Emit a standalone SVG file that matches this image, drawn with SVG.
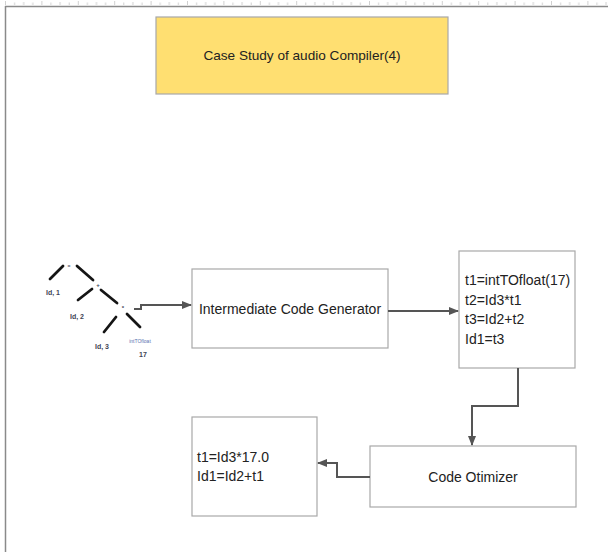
<svg xmlns="http://www.w3.org/2000/svg" width="608" height="552" viewBox="0 0 608 552">
  <defs>
    <style>
      .box { fill: #ffffff; stroke: #a8a8a8; stroke-width: 1.2; }
      .title { fill: #ffdf71; stroke: #a8a8a8; stroke-width: 1.2; }
      .lbl { font-family: "Liberation Sans", Arial, sans-serif; font-size: 14px; fill: #222; }
      .conn { fill: none; stroke: #555; stroke-width: 2; }
      .tree { stroke: #151515; stroke-width: 2.8; stroke-linecap: round; }
      .tlbl { font-family: "Liberation Sans", Arial, sans-serif; font-size: 7px; font-weight: bold; fill: #404456; text-anchor: middle; }
      .tick { stroke: #d0d0d0; stroke-width: 1; }
    </style>
    <marker id="arrow" viewBox="0 0 10 10" refX="9" refY="5" markerWidth="5" markerHeight="5" orient="auto" markerUnits="strokeWidth">
      <path d="M0,1 L10,5 L0,9 Z" fill="#555"/>
    </marker>
    <pattern id="ruler" x="5" y="0" width="36.4" height="6" patternUnits="userSpaceOnUse">
      <line class="tick" x1="0.5" y1="1" x2="0.5" y2="5"/>
      <line class="tick" x1="9.6" y1="2.5" x2="9.6" y2="5"/>
      <line class="tick" x1="18.7" y1="2" x2="18.7" y2="5"/>
      <line class="tick" x1="27.8" y1="2.5" x2="27.8" y2="5"/>
    </pattern>
  </defs>

  <rect width="608" height="552" fill="#ffffff"/>

  <!-- page ruler and page edges -->
  <rect x="5" y="0" width="603" height="6" fill="url(#ruler)"/>
  <line x1="5" y1="6.5" x2="608" y2="6.5" stroke="#8a8a8a" stroke-width="1.5"/>
  <line x1="5.5" y1="6" x2="5.5" y2="552" stroke="#8a8a8a" stroke-width="1.5"/>

  <!-- title -->
  <g id="title">
    <rect class="title" x="156" y="17" width="292" height="77"/>
    <text class="lbl" x="302" y="60" text-anchor="middle" style="font-size:13.6px">Case Study of audio Compiler(4)</text>
  </g>

  <!-- syntax tree -->
  <g id="syntax-tree">
    <line class="tree" x1="63" y1="266" x2="50" y2="279"/>
    <line class="tree" x1="77" y1="266" x2="93" y2="280"/>
    <line class="tree" x1="92" y1="289" x2="78" y2="300"/>
    <line class="tree" x1="101" y1="290" x2="117" y2="303"/>
    <line class="tree" x1="116" y1="317" x2="104" y2="332"/>
    <line class="tree" x1="127" y1="314" x2="140" y2="327"/>
    <text class="tlbl" x="69" y="268" style="font-size:5px">=</text>
    <text class="tlbl" x="98" y="287" style="font-size:6px">+</text>
    <text class="tlbl" x="123" y="310" style="font-size:6px">*</text>
    <text class="tlbl" x="53" y="295">Id, 1</text>
    <text class="tlbl" x="77" y="319">Id, 2</text>
    <text class="tlbl" x="102" y="349">Id, 3</text>
    <text class="tlbl" x="140" y="343" style="font-size:5px;font-weight:normal;fill:#5a72b0">intTOfloat</text>
    <text class="tlbl" x="143" y="357">17</text>
  </g>

  <g id="icg">
    <rect class="box" x="192" y="269" width="196" height="79"/>
    <text class="lbl" x="290" y="314" text-anchor="middle">Intermediate Code Generator</text>
  </g>

  <g id="three-address">
    <rect class="box" x="459" y="251" width="116" height="117"/>
    <text class="lbl" x="465" y="285">t1=intTOfloat(17)</text>
    <text class="lbl" x="465" y="305">t2=Id3*t1</text>
    <text class="lbl" x="465" y="324">t3=Id2+t2</text>
    <text class="lbl" x="465" y="344">Id1=t3</text>
  </g>

  <g id="optimizer">
    <rect class="box" x="370" y="446" width="206" height="61"/>
    <text class="lbl" x="473" y="482" text-anchor="middle">Code Otimizer</text>
  </g>

  <g id="optimized">
    <rect class="box" x="192" y="417" width="125" height="99"/>
    <text class="lbl" x="197" y="462">t1=Id3*17.0</text>
    <text class="lbl" x="197" y="481">Id1=Id2+t1</text>
  </g>

  <g id="connectors">
    <path class="conn" d="M134,309 H141 V305 H191" marker-end="url(#arrow)"/>
    <path class="conn" d="M388,311 H458" marker-end="url(#arrow)"/>
    <path class="conn" d="M518,368 V406 H472 V445" marker-end="url(#arrow)"/>
    <path class="conn" d="M370,477 H337 V463 H318" marker-end="url(#arrow)"/>
  </g>
</svg>
